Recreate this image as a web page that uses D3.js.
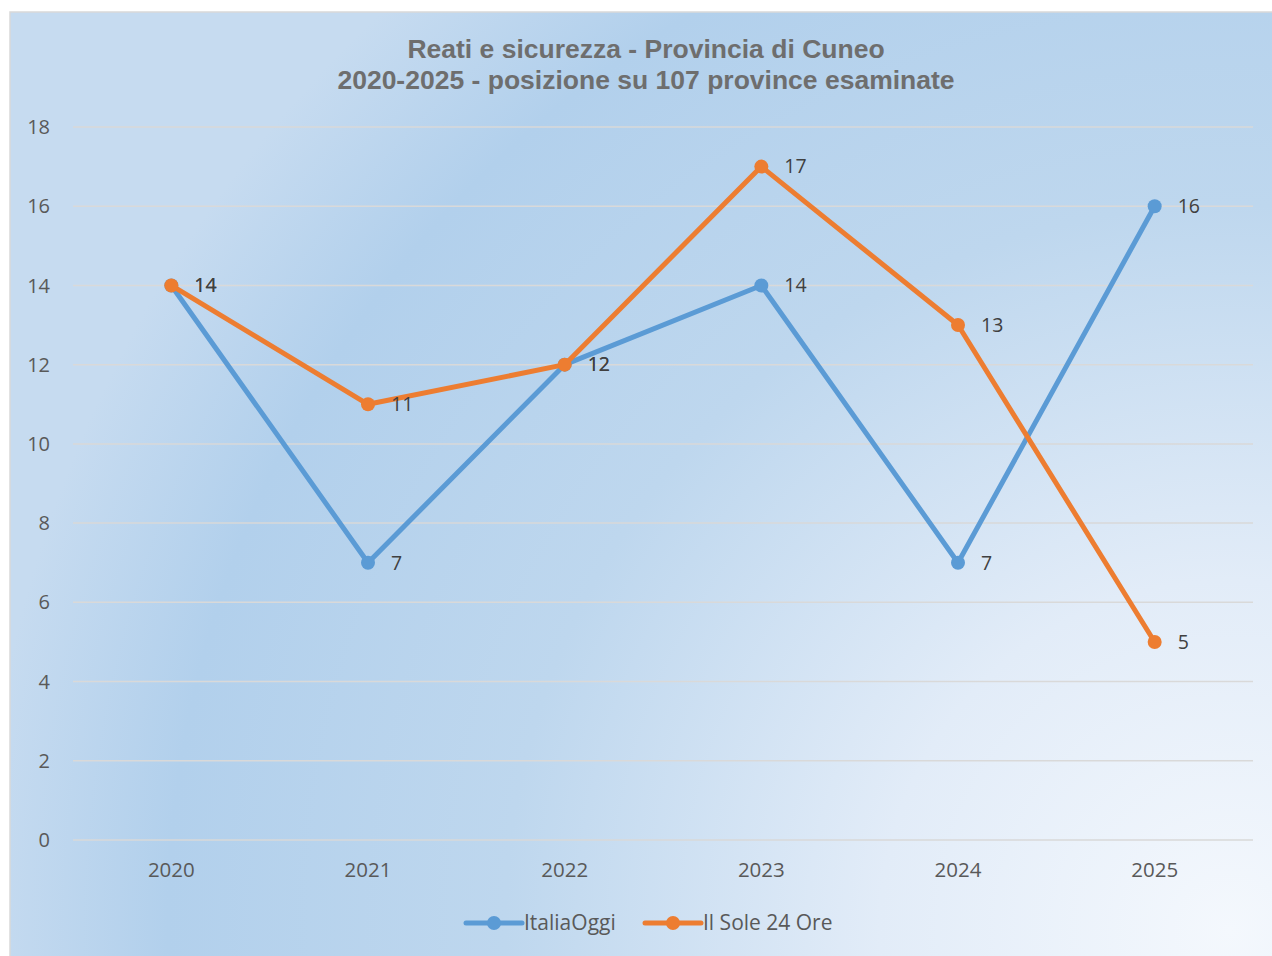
<!DOCTYPE html>
<html><head><meta charset="utf-8">
<script src="https://cdn.jsdelivr.net/npm/d3@7"></script>
<style>body{margin:0;background:#fff;}svg{display:block;}</style>
</head><body>
<script>
const years = ["2020","2021","2022","2023","2024","2025"];
const italiaOggi = [14, 7, 12, 14, 7, 16];
const sole24Ore = [14, 11, 12, 17, 13, 5];
const yTicks = [0,2,4,6,8,10,12,14,16,18];
const seriesNames = ["ItaliaOggi","Il Sole 24 Ore"];
const seriesColors = ["#5b9bd5","#ed7d31"];
const titleLines = ["Reati e sicurezza - Provincia di Cuneo","2020-2025 - posizione su 107 province esaminate"];

const W=1272,H=956;
const svg=d3.select("body").append("svg").attr("width",W).attr("height",H);
const defs=svg.append("defs");
const g1=defs.append("radialGradient").attr("id","bg").attr("gradientUnits","userSpaceOnUse")
 .attr("cx",1230).attr("cy",930).attr("r",1250).attr("fx",1230).attr("fy",930);
g1.append("stop").attr("offset","0").attr("stop-color","#f4f8fd");
g1.append("stop").attr("offset","0.28").attr("stop-color","#e2ecf8");
g1.append("stop").attr("offset","0.58").attr("stop-color","#bed7ee");
g1.append("stop").attr("offset","0.85").attr("stop-color","#b2d0ec");
g1.append("stop").attr("offset","1").attr("stop-color","#c6dbf0");
svg.append("rect").attr("x",10).attr("y",12).attr("width",W).attr("height",H)
 .attr("fill","url(#bg)").attr("stroke","#d9d9d9").attr("stroke-width",1.5);

const x=d3.scaleBand().domain(years).range([73,1253]);
const y=d3.scaleLinear().domain([0,18]).range([840,127]);
const cx=d=>x(d)+x.bandwidth()/2;
const FONT="Open Sans, Liberation Sans, sans-serif";

// grid
svg.append("g").selectAll("line").data(yTicks).join("line")
 .attr("x1",73).attr("x2",1253).attr("y1",d=>y(d)).attr("y2",d=>y(d))
 .attr("stroke","#d9d9d9").attr("stroke-width",1.5);

// y axis labels
const yAxis=svg.append("g").attr("transform","translate(50,0)")
 .call(d3.axisLeft(y).tickValues(yTicks).tickSize(0).tickPadding(0));
yAxis.select(".domain").remove();
yAxis.selectAll("text").attr("font-family",FONT).attr("font-size",20).attr("fill","#595959").attr("dy","0.33em");

// x axis labels
const xAxis=svg.append("g").attr("transform","translate(0,870)")
 .call(d3.axisBottom(x).tickSize(0).tickPadding(0));
xAxis.select(".domain").remove();
xAxis.selectAll("text").attr("font-family",FONT).attr("font-size",20.5).attr("fill","#595959").attr("dy","0.35em");

// title
svg.append("g").selectAll("text").data(titleLines).join("text")
 .attr("x",646).attr("y",(d,i)=>58+i*31).attr("text-anchor","middle")
 .attr("font-family","Liberation Sans, Arial, sans-serif").attr("font-weight","bold")
 .attr("font-size",26.5).attr("fill","#6e6e6e").text(d=>d);

const allSeries=[italiaOggi,sole24Ore];
const line=d3.line().x((d,i)=>cx(years[i])).y(d=>y(d));
allSeries.forEach((s,k)=>{
 const gg=svg.append("g");
 gg.append("path").attr("d",line(s)).attr("fill","none").attr("stroke",seriesColors[k])
  .attr("stroke-width",5).attr("stroke-linejoin","round").attr("stroke-linecap","round");
 gg.selectAll("circle").data(s).join("circle").attr("cx",(d,i)=>cx(years[i])).attr("cy",d=>y(d))
  .attr("r",7).attr("fill",seriesColors[k]);
});
allSeries.forEach((s,k)=>{
 svg.append("g").selectAll("text").data(s).join("text")
  .attr("x",(d,i)=>cx(years[i])+23).attr("y",d=>y(d)).attr("dy","0.35em")
  .attr("font-family",FONT).attr("font-size",19.5).attr("fill","#404040")
  .text(d=>d);
});

// legend
const legX=[466,645];
seriesNames.forEach((n,k)=>{
 const lg=svg.append("g").attr("transform",`translate(${legX[k]},923)`);
 lg.append("line").attr("x1",0).attr("x2",56).attr("stroke",seriesColors[k]).attr("stroke-width",5).attr("stroke-linecap","round");
 lg.append("circle").attr("cx",28).attr("r",7).attr("fill",seriesColors[k]);
 lg.append("text").attr("x",58).attr("dy","0.35em").attr("font-family",FONT)
  .attr("font-size",21).attr("fill","#595959").text(n);
});
</script>
</body></html>
